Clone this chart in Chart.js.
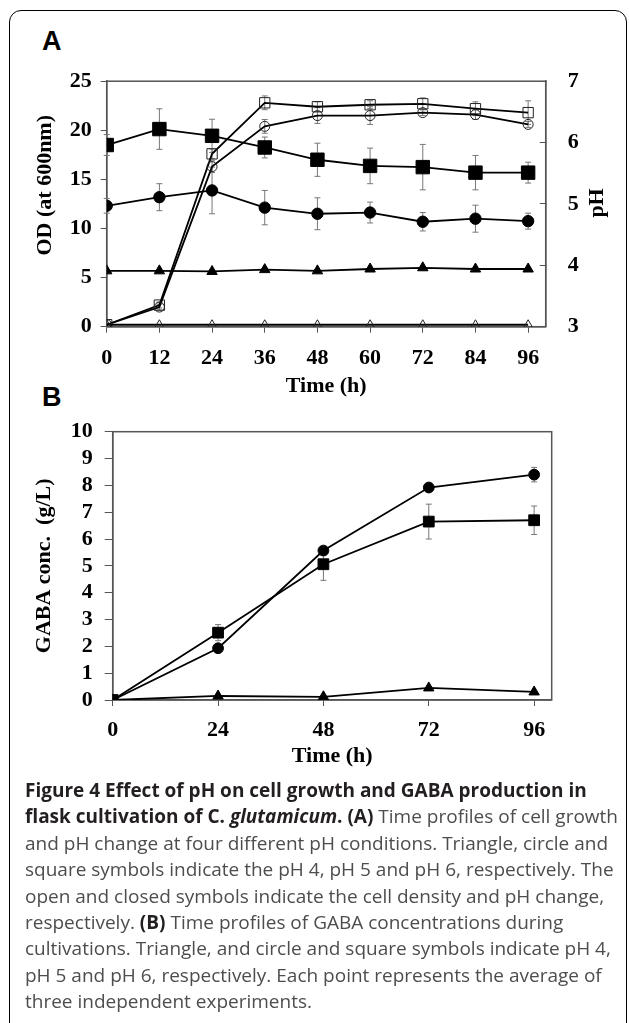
<!DOCTYPE html>
<html>
<head>
<meta charset="utf-8">
<script src="https://cdn.jsdelivr.net/npm/chart.js@4.4.1/dist/chart.umd.min.js"></script>
<style>
  body { margin: 0; background: #fff; width: 629px; height: 1023px; overflow: hidden; position: relative; }
  #frame { position: absolute; left: 9px; top: 10px; width: 616px; height: 1040px; border: 1.5px solid #000; border-radius: 12px; }
  .panel { position: absolute; font: bold 27px "Liberation Sans", Arial, sans-serif; line-height: 27px; }
  #boxA { position: absolute; left: 0; top: 40px; }
  #boxB { position: absolute; left: 0; top: 400px; }
  #caption { position: absolute; left: 25px; top: 777px; font-family: "Open Sans", sans-serif; font-size: 19px; line-height: 26.4px; color: #4d4d4d; white-space: nowrap; }
  #caption b { color: #231f20; }
</style>
</head>
<body>
<div id="frame"></div>
<div class="panel" style="left:42px;top:28px">A</div>
<div class="panel" style="left:42px;top:384px">B</div>
<div id="boxA"><canvas id="chartA" width="629" height="370"></canvas></div>
<div id="boxB"><canvas id="chartB" width="629" height="380"></canvas></div>
<div id="caption">
  <div><b>Figure 4 Effect of pH on cell growth and GABA production in</b></div>
  <div><b>flask cultivation of C. <i>glutamicum</i>. (A)</b> Time profiles of cell growth</div>
  <div>and pH change at four different pH conditions. Triangle, circle and</div>
  <div>square symbols indicate the pH 4, pH 5 and pH 6, respectively. The</div>
  <div>open and closed symbols indicate the cell density and pH change,</div>
  <div>respectively. <b>(B)</b> Time profiles of GABA concentrations during</div>
  <div>cultivations. Triangle, and circle and square symbols indicate pH 4,</div>
  <div>pH 5 and pH 6, respectively. Each point represents the average of</div>
  <div>three independent experiments.</div>
</div>
<script>
// panel A: time (h)
const hoursA = [0, 12, 24, 36, 48, 60, 72, 84, 96];
// cell density OD600 (open symbols, left axis)
const odPH4 = [0.2, 0.2, 0.2, 0.2, 0.2, 0.2, 0.2, 0.2, 0.2];
const odPH5 = [0.2, 2.0, 16.3, 20.4, 21.5, 21.5, 21.8, 21.6, 20.6];
const odPH6 = [0.2, 2.2, 17.6, 22.8, 22.4, 22.6, 22.7, 22.2, 21.8];
const odErrPH5 = [0, 0.3, 0.6, 0.7, 0.8, 0.9, 0.3, 0.5, 0.3];
const odErrPH6 = [0, 0.3, 0.5, 0.7, 0.5, 0.4, 0.6, 0.7, 1.2];
// pH change (closed symbols, right axis)
const phPH4 = [3.91, 3.91, 3.90, 3.93, 3.91, 3.94, 3.96, 3.94, 3.94];
const phPH5 = [4.97, 5.11, 5.22, 4.94, 4.84, 4.86, 4.71, 4.76, 4.72];
const phPH6 = [5.96, 6.22, 6.11, 5.92, 5.72, 5.62, 5.60, 5.51, 5.51];
const phErrPH5 = [0.12, 0.22, 0.38, 0.28, 0.26, 0.17, 0.15, 0.22, 0.13];
const phErrPH6 = [0.17, 0.33, 0.27, 0.17, 0.27, 0.29, 0.37, 0.28, 0.17];

// panel B: GABA (g/L)
const hoursB = [0, 24, 48, 72, 96];
const gabaPH4 = [0, 0.15, 0.12, 0.45, 0.3];
const gabaPH5 = [0, 1.93, 5.57, 7.92, 8.40];
const gabaPH6 = [0, 2.51, 5.06, 6.65, 6.70];
const gabaErrPH5 = [0, 0.1, 0.05, 0.1, 0.27];
const gabaErrPH6 = [0, 0.3, 0.6, 0.65, 0.53];

const odTicks = [0, 5, 10, 15, 20, 25];
const phTicks = [3, 4, 5, 6, 7];
const gabaTicks = [0, 1, 2, 3, 4, 5, 6, 7, 8, 9, 10];

const serif = "'Liberation Serif', 'Times New Roman', serif";
const tickFont = { family: serif, size: 22, weight: 'bold' };
const axisGray = '#555';

function pts(xs, ys) { return xs.map((x, i) => ({ x: x, y: ys[i] })); }

function series(xs, ys, style, filled, r, axis, errs) {
  return {
    data: pts(xs, ys),
    yAxisID: axis,
    errors: errs,
    borderColor: '#000',
    borderWidth: 1.8,
    pointStyle: style,
    pointRadius: r,
    pointBackgroundColor: filled ? '#000' : 'rgba(0,0,0,0)',
    pointBorderColor: filled ? '#000' : '#222',
    pointBorderWidth: 1,
    tension: 0
  };
}

// error bars, frame and extra axis titles
const extras = {
  id: 'extras',
  beforeDatasetsDraw(chart) {
    const ctx = chart.ctx;
    const a = chart.chartArea;
    ctx.save();
    ctx.strokeStyle = axisGray;
    ctx.lineWidth = 1.5;
    ctx.strokeRect(a.left, a.top, a.right - a.left, a.bottom - a.top);
    ctx.strokeStyle = '#777';
    ctx.lineWidth = 1;
    chart.data.datasets.forEach((ds, i) => {
      if (!ds.errors) return;
      const ys = chart.scales[ds.yAxisID];
      const meta = chart.getDatasetMeta(i);
      meta.data.forEach((p, j) => {
        const e = ds.errors[j];
        if (!e) return;
        const v = ds.data[j].y;
        const t = ys.getPixelForValue(v + e);
        const b = ys.getPixelForValue(v - e);
        ctx.beginPath();
        ctx.moveTo(p.x, t); ctx.lineTo(p.x, b);
        ctx.moveTo(p.x - 3, t); ctx.lineTo(p.x + 3, t);
        ctx.moveTo(p.x - 3, b); ctx.lineTo(p.x + 3, b);
        ctx.stroke();
      });
    });
    ctx.restore();
  },
  afterDraw(chart, args, opts) {
    const list = (opts && opts.titles) || [];
    const ctx = chart.ctx;
    const a = chart.chartArea;
    list.forEach(t => {
      ctx.save();
      ctx.font = 'bold 22px ' + serif;
      ctx.fillStyle = '#000';
      ctx.textAlign = 'center';
      ctx.textBaseline = 'middle';
      ctx.translate(t.dx < 0 ? a.left + t.dx : a.right + t.dx, (a.top + a.bottom) / 2 + t.dy);
      ctx.rotate(-Math.PI / 2);
      ctx.fillText(t.text, 0, 0);
      ctx.restore();
    });
  }
};

new Chart(document.getElementById('chartA'), {
  type: 'line',
  data: {
    datasets: [
      series(hoursA, odPH4, 'triangle', false, 5, 'y', null),
      series(hoursA, odPH5, 'circle', false, 5, 'y', odErrPH5),
      series(hoursA, odPH6, 'rect', false, 7.3, 'y', odErrPH6),
      series(hoursA, phPH4, 'triangle', true, 6, 'y2', null),
      series(hoursA, phPH5, 'circle', true, 5.7, 'y2', phErrPH5),
      series(hoursA, phPH6, 'rect', true, 9.5, 'y2', phErrPH6)
    ]
  },
  options: {
    responsive: false,
    devicePixelRatio: 1,
    animation: false,
    layout: { padding: { top: 30.7, left: 0, right: 0, bottom: 0 } },
    plugins: {
      legend: { display: false },
      tooltip: { enabled: false },
      extras: { titles: [ { text: 'OD (at 600nm)', dx: -61.7, dy: -18.7 }, { text: 'pH', dx: 51.3, dy: -1 } ] }
    },
    scales: {
      x: {
        type: 'linear', min: 0, max: 100,
        afterBuildTicks: s => { s.ticks = hoursA.map(v => ({ value: v })); },
        afterFit: s => { s.height = 83.3; },
        ticks: { font: tickFont, color: '#000', padding: 12, autoSkip: false, maxRotation: 0 },
        grid: { drawOnChartArea: false, tickLength: 6, color: axisGray },
        border: { color: axisGray, width: 1.5 },
        title: { display: true, text: 'Time (h)', font: tickFont, color: '#000', padding: { top: 0, bottom: 10.8 } }
      },
      y: {
        position: 'left', min: 0, max: 25,
        afterBuildTicks: s => { s.ticks = odTicks.map(v => ({ value: v })); },
        afterFit: s => { s.width = 106.7; },
        ticks: { font: tickFont, color: '#000', padding: 9, autoSkip: false },
        grid: { drawOnChartArea: false, tickLength: 6, color: axisGray },
        border: { color: axisGray, width: 1.5 }
      },
      y2: {
        position: 'right', min: 3, max: 7,
        afterBuildTicks: s => { s.ticks = phTicks.map(v => ({ value: v })); },
        afterFit: s => { s.width = 83.3; },
        ticks: { font: tickFont, color: '#000', padding: 28, autoSkip: false },
        grid: { drawOnChartArea: false, tickLength: -6, color: axisGray },
        border: { color: axisGray, width: 1.5 }
      }
    }
  },
  plugins: [extras]
});

new Chart(document.getElementById('chartB'), {
  type: 'line',
  data: {
    datasets: [
      series(hoursB, gabaPH4, 'triangle', true, 6, 'y', null),
      series(hoursB, gabaPH5, 'circle', true, 5.4, 'y', gabaErrPH5),
      series(hoursB, gabaPH6, 'rect', true, 7.6, 'y', gabaErrPH6)
    ]
  },
  options: {
    responsive: false,
    devicePixelRatio: 1,
    animation: false,
    layout: { padding: { top: 31.7, left: 0, right: 77.3, bottom: 0 } },
    plugins: { legend: { display: false }, tooltip: { enabled: false }, extras: { titles: [] } },
    scales: {
      x: {
        type: 'linear', min: 0, max: 100,
        afterBuildTicks: s => { s.ticks = hoursB.map(v => ({ value: v })); },
        afterFit: s => { s.height = 80; },
        ticks: { font: tickFont, color: '#000', padding: 11, autoSkip: false, maxRotation: 0 },
        grid: { drawOnChartArea: false, tickLength: 6, color: axisGray },
        border: { color: axisGray, width: 1.5 },
        title: { display: true, text: 'Time (h)', font: tickFont, color: '#000', padding: { top: 0, bottom: 10.1 } }
      },
      y: {
        position: 'left', min: 0, max: 10,
        afterBuildTicks: s => { s.ticks = gabaTicks.map(v => ({ value: v })); },
        afterFit: s => { s.width = 112.7; },
        ticks: { font: tickFont, color: '#000', padding: 12, autoSkip: false },
        grid: { drawOnChartArea: false, tickLength: 8, color: axisGray },
        border: { color: axisGray, width: 1.5 },
        title: { display: true, text: 'GABA conc.  (g/L)', font: tickFont, color: '#000', padding: { top: 30.8, bottom: 0 } }
      }
    }
  },
  plugins: [extras]
});
</script>
</body>
</html>
